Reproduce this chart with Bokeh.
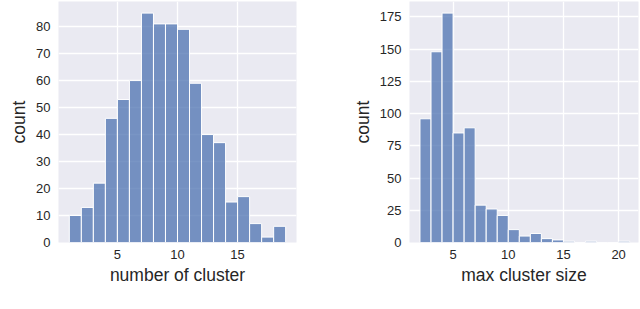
from bokeh.plotting import figure
from bokeh.layouts import row
from bokeh.models import FixedTicker, Range1d
from bokeh.embed import file_html
from bokeh.resources import INLINE

# ---- data ----
left_bin_edges = [1, 2, 3, 4, 5, 6, 7, 8, 9, 10, 11, 12, 13, 14, 15, 16, 17, 18, 19]
left_counts = [10, 13, 22, 46, 53, 60, 85, 81, 81, 79, 59, 40, 37, 15, 17, 7, 2, 6]
left_xticks = [5, 10, 15]
left_yticks = [0, 10, 20, 30, 40, 50, 60, 70, 80]
left_xlabel = "number of cluster"

right_bin_edges = [2, 3, 4, 5, 6, 7, 8, 9, 10, 11, 12, 13, 14, 15, 16, 17, 18, 19, 20, 21]
right_counts = [96, 148, 178, 85, 89, 29, 26, 21, 10, 5, 7, 3, 2, 1, 0, 1, 0, 0, 1]
right_xticks = [5, 10, 15, 20]
right_yticks = [0, 25, 50, 75, 100, 125, 150, 175]
right_xlabel = "max cluster size"

ylabel = "count"

FONT = "Liberation Sans"
BG = "#EAEAF2"
BAR = "#4C72B0"
TXT = "#262626"


def make_hist(edges, counts, xticks, yticks, xlabel, xr, yr, width, mbl, mbr):
    p = figure(width=width, height=290, output_backend="svg", toolbar_location=None,
               x_range=Range1d(*xr), y_range=Range1d(*yr),
               min_border_left=mbl, min_border_right=mbr, min_border_top=1,
               min_border_bottom=48)
    p.background_fill_color = BG
    p.border_fill_color = "white"
    p.outline_line_color = None
    p.quad(left=edges[:-1], right=edges[1:], bottom=0, top=counts,
           fill_color=BAR, fill_alpha=0.75, line_color="white", line_width=1)
    for ax in (p.xaxis[0], p.yaxis[0]):
        ax.axis_line_color = None
        ax.major_tick_line_color = None
        ax.minor_tick_line_color = None
        ax.major_tick_out = 0
        ax.major_tick_in = 0
        ax.major_label_text_font = FONT
        ax.major_label_text_font_size = "13px"
        ax.major_label_text_color = TXT
        ax.axis_label_text_font = FONT
        ax.axis_label_text_font_size = "17.5px"
        ax.axis_label_text_font_style = "normal"
        ax.axis_label_text_color = TXT
        ax.major_label_standoff = 8
        ax.axis_label_standoff = 4
    p.xaxis[0].ticker = FixedTicker(ticks=xticks)
    p.yaxis[0].ticker = FixedTicker(ticks=yticks)
    p.xaxis[0].axis_label = xlabel
    p.yaxis[0].axis_label = ylabel
    p.xaxis[0].major_label_standoff = 7
    p.xaxis[0].axis_label_standoff = 3
    for g in (p.xgrid[0], p.ygrid[0]):
        g.grid_line_color = "white"
        g.grid_line_width = 1.3
    return p


p1 = make_hist(left_bin_edges, left_counts, left_xticks, left_yticks, left_xlabel,
               (0.1, 19.9), (0, 89.3), 320, 58, 24)
p2 = make_hist(right_bin_edges, right_counts, right_xticks, right_yticks, right_xlabel,
               (1.05, 21.8), (0, 187), 320, 89, 2)

layout = row(p1, p2)
open("out.html", "w").write(file_html(layout, INLINE))
